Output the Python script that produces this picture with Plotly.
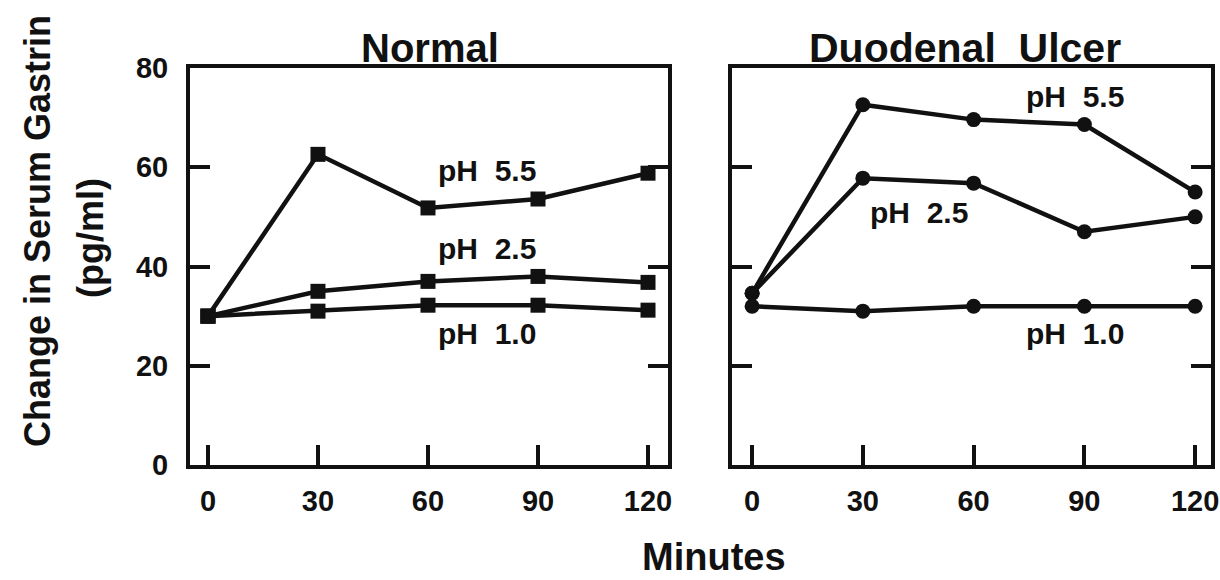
import plotly.graph_objects as go

minutes = [0, 30, 60, 90, 120]

normal_ph55 = [30, 62.6, 51.8, 53.6, 58.8]
normal_ph25 = [30, 35, 37, 38, 36.8]
normal_ph10 = [30, 31, 32.2, 32.2, 31.2]

du_ph55 = [34.6, 72.6, 69.6, 68.6, 55]
du_ph25 = [34.6, 57.8, 56.8, 47, 50]
du_ph10 = [32, 31, 32, 32, 32]

y_ticks = [0, 20, 40, 60, 80]
x_ticks = [0, 30, 60, 90, 120]

FONT = "Liberation Sans"
BLACK = "#111111"
W, H = 1220, 580


def px(x):
    return x / W


def py(y):
    return 1 - y / H


fig = go.Figure()


def add(x, y, sym, xa, ya):
    fig.add_trace(go.Scatter(
        x=x, y=y, mode="lines+markers", xaxis=xa, yaxis=ya,
        line=dict(color=BLACK, width=4.5),
        marker=dict(symbol=sym, size=15, color=BLACK),
        showlegend=False, hoverinfo="skip"))


for s in (normal_ph55, normal_ph25, normal_ph10):
    add(minutes, s, "square", "x", "y")
for s in (du_ph55, du_ph25, du_ph10):
    add(minutes, s, "circle", "x2", "y2")

axis_common = dict(
    showline=True, linewidth=4, linecolor=BLACK, mirror=True,
    showgrid=False, zeroline=False, automargin=False,
    ticks="inside", ticklen=20, tickwidth=4, tickcolor=BLACK,
    tickfont=dict(family=FONT, size=29, color=BLACK, weight="bold"),
)

ydom = [py(465), py(68)]

fig.update_layout(
    template="none",
    width=W, height=H, autosize=False,
    margin=dict(l=0, r=0, t=0, b=0, pad=0),
    paper_bgcolor="white", plot_bgcolor="white",
    showlegend=False,
    xaxis=dict(domain=[px(190), px(668)], range=[-4.9, 125.45],
               tickvals=x_ticks, anchor="y", ticklabelstandoff=7, **axis_common),
    yaxis=dict(domain=ydom, range=[0, 80],
               tickvals=y_ticks, anchor="x", ticklabelstandoff=12,
               **{**axis_common, "mirror": "ticks"}),
    xaxis2=dict(domain=[px(732), px(1211)], range=[-5.45, 124.3],
                tickvals=x_ticks, anchor="y2", ticklabelstandoff=7, **axis_common),
    yaxis2=dict(domain=ydom, range=[0, 80],
                tickvals=y_ticks, anchor="x2", showticklabels=False,
                **{**axis_common, "mirror": "ticks"}),
)


def txt(x, y, s, xref="x", yref="y", size=30, **kw):
    fig.add_annotation(x=x, y=y, xref=xref, yref=yref, text=s, showarrow=False,
                       xanchor="center", yanchor="middle",
                       font=dict(family=FONT, size=size, color=BLACK, weight="bold"), **kw)


SP = "&nbsp; "
# series labels
txt(76, 59.4, "pH" + SP + "5.5")
txt(76, 43.7, "pH" + SP + "2.5")
txt(76, 26.6, "pH" + SP + "1.0")
txt(87.5, 74.2, "pH" + SP + "5.5", "x2", "y2")
txt(45.3, 50.8, "pH" + SP + "2.5", "x2", "y2")
txt(87.5, 26.6, "pH" + SP + "1.0", "x2", "y2")

# panel titles
txt(px(430), py(48), "Normal", "paper", "paper", size=40)
txt(px(965), py(48), "Duodenal" + SP + "Ulcer", "paper", "paper", size=41)

# axis titles
txt(px(714), py(557), "Minutes", "paper", "paper", size=38)
txt(px(38), py(231), "Change in Serum Gastrin", "paper", "paper", size=36, textangle=-90)
txt(px(90), py(238), "(pg/ml)", "paper", "paper", size=36, textangle=-90)

fig.write_html(
    "out.html",
    config={"displayModeBar": False},
    post_script="document.body.style.margin='0';document.body.style.overflow='hidden';",
)
